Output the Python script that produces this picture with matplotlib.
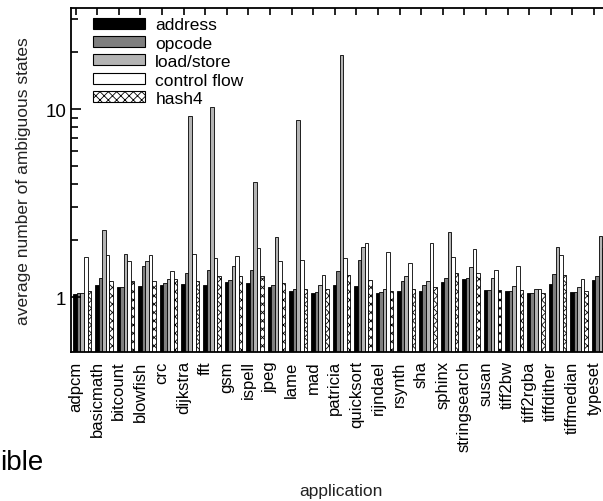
import numpy as np
import matplotlib
matplotlib.use("Agg")
import matplotlib.pyplot as plt
from matplotlib.ticker import FixedLocator, NullFormatter
from matplotlib.patches import Patch

plt.rcParams['font.family'] = ['Liberation Sans', 'DejaVu Sans']
plt.rcParams['hatch.linewidth'] = 0.6

# Data
apps = ["adpcm", "basicmath", "bitcount", "blowfish", "crc", "dijkstra", "fft",
        "gsm", "ispell", "jpeg", "lame", "mad", "patricia", "quicksort",
        "rijndael", "rsynth", "sha", "sphinx", "stringsearch", "susan",
        "tiff2bw", "tiff2rgba", "tiffdither", "tiffmedian", "typeset"]

address = [1.04, 1.16, 1.13, 1.14, 1.16, 1.17, 1.16, 1.20, 1.19, 1.13, 1.08, 1.05, 1.16,
           1.14, 1.05, 1.08, 1.08, 1.20, 1.24, 1.09, 1.08, 1.05, 1.17, 1.07, 1.23]
opcode = [1.05, 1.26, 1.13, 1.46, 1.19, 1.35, 1.40, 1.23, 1.39, 1.16, 1.10, 1.07, 1.37,
          1.58, 1.07, 1.21, 1.16, 1.26, 1.26, 1.09, 1.08, 1.05, 1.33, 1.07, 1.29]
load_store = [1.05, 2.28, 1.69, 1.55, 1.25, 9.15, 10.2, 1.46, 4.1, 2.09, 8.74, 1.16, 19.4,
              1.84, 1.10, 1.29, 1.21, 2.21, 1.44, 1.26, 1.15, 1.11, 1.85, 1.13, 2.12]
control_flow = [1.63, 1.68, 1.56, 1.68, 1.37, 1.69, 1.61, 1.66, 1.82, 1.55, 1.58, 1.31, 1.61,
                1.93, 1.73, 1.51, 1.94, 1.63, 1.80, 1.39, 1.46, 1.11, 1.68, 1.24, 1.82]
hash4 = [1.08, 1.21, 1.22, 1.21, 1.24, 1.22, 1.29, 1.30, 1.29, 1.19, 1.10, 1.10, 1.31,
         1.23, 1.08, 1.10, 1.13, 1.34, 1.34, 1.09, 1.09, 1.05, 1.31, 1.08, 1.30]

series = [("address", address, "black", None),
          ("opcode", opcode, "#7f7f7f", None),
          ("load/store", load_store, "#b4b4b4", None),
          ("control flow", control_flow, "white", None),
          ("hash4", hash4, "white", "xxxx")]

fig = plt.figure(figsize=(6.03, 5.02), dpi=100)
# axes runs past the right edge: the reference is a cropped figure
ax = fig.add_axes([71 / 603, 1 - 353 / 502, 544.5 / 603, 344.5 / 502])

x = np.arange(len(apps))
w = 0.164
for k, (name, vals, color, hatch) in enumerate(series):
    ax.bar(x - 0.1 + (k + 0.5) * w, vals, width=w, color=color, edgecolor="black",
           linewidth=0.6, hatch=hatch, label=name)

ax.set_yscale("log")
ax.set_ylim(0.51, 34.7)
ax.set_xlim(-0.21, 25.0)

ax.yaxis.set_major_locator(FixedLocator([1, 10]))
ax.set_yticklabels(["1", "10"])
ax.yaxis.set_minor_locator(FixedLocator([2, 3, 4, 5, 6, 7, 8, 9, 20, 30]))
ax.yaxis.set_minor_formatter(NullFormatter())

ax.set_xticks(x)
ax.set_xticklabels(apps, rotation=90, fontsize=12)
ax.tick_params(axis="y", which="major", direction="in", length=7, width=1.2, labelsize=13.5)
ax.tick_params(axis="y", which="minor", direction="in", length=5, width=1.2)
ax.tick_params(axis="x", direction="in", length=5, width=1.2, top=True, pad=6)

for s in ax.spines.values():
    s.set_linewidth(1.3)

ax.set_ylabel("average number of ambiguous states", fontsize=12.5, color="#222222")
ax.yaxis.set_label_coords(-0.074, 0.5)
fig.text(341 / 603, 1 - 492 / 502, "application", ha="center", va="center",
         fontsize=12.5, color="#222222")

# stray text fragment at the bottom-left of the reference
fig.text(0.0, 1 - 463 / 502, "ible", ha="left", va="center", fontsize=20)

handles = [Patch(facecolor=c, edgecolor="black", linewidth=0.8, hatch=h, label=n)
           for n, _, c, h in series]
ax.legend(handles=handles, loc="upper left", bbox_to_anchor=(0.04, 0.972),
          frameon=False, fontsize=12.5, handlelength=3.0, handleheight=0.6,
          handletextpad=0.6, labelspacing=0.2, borderpad=0, borderaxespad=0)

fig.savefig("out.png", dpi=100)
